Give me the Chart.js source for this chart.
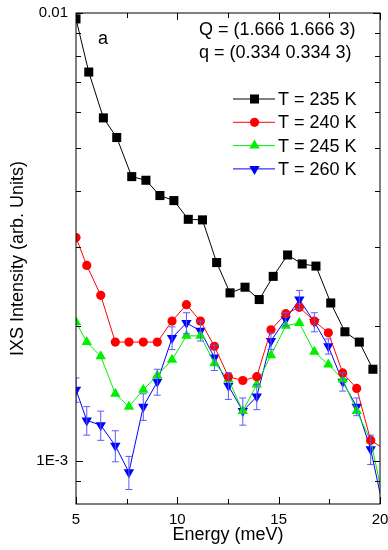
<!DOCTYPE html>
<html>
<head>
<meta charset="utf-8">
<script src="https://cdn.jsdelivr.net/npm/chart.js@4/dist/chart.umd.min.js"></script>
<style>
  body { margin: 0; background: #fff; }
  canvas { display: block; }
</style>
</head>
<body>
<canvas id="ixs" width="388" height="550"></canvas>
<script>
/* dados */
var energia235 = [5.00, 5.63, 6.35, 7.01, 7.75, 8.45, 9.14, 9.83, 10.54, 11.24, 11.94, 12.60, 13.34, 14.04, 14.73, 15.44, 16.16, 16.84, 17.57, 18.27, 18.98, 19.65];
var intens235 = [0.00970, 0.00738, 0.00583, 0.00527, 0.00431, 0.00423, 0.00391, 0.00381, 0.00346, 0.00345, 0.00277, 0.00237, 0.00244, 0.00229, 0.00258, 0.00288, 0.00275, 0.00272, 0.00225, 0.00194, 0.00184, 0.00160];

var energia = [5.00, 5.53, 6.22, 6.94, 7.61, 8.32, 9.01, 9.74, 10.45, 11.14, 11.83, 12.52, 13.23, 13.92, 14.62, 15.35, 16.02, 16.76, 17.45, 18.16, 18.85, 19.54, 20.23];
var intens240 = [0.00315, 0.00273, 0.00234, 0.00184, 0.00184, 0.00184, 0.00184, 0.00205, 0.00223, 0.00205, 0.00180, 0.00154, 0.00151, 0.00154, 0.00196, 0.00213, 0.00220, 0.00205, 0.00193, 0.00157, 0.00145, 0.00111, 0.00106];
var intens245 = [0.00204, 0.00184, 0.00171, 0.00141, 0.00132, 0.00144, 0.00155, 0.00168, 0.00190, 0.00190, 0.00165, 0.00152, 0.00129, 0.00148, 0.00172, 0.00200, 0.00203, 0.00175, 0.00164, 0.00152, 0.00129, 0.00111, 0.00079];
var intens260 = [0.00144, 0.00123, 0.00120, 0.00108, 0.000942, 0.00132, 0.00150, 0.00188, 0.00203, 0.00195, 0.00170, 0.00147, 0.00129, 0.00139, 0.00185, 0.00207, 0.00229, 0.00204, 0.00180, 0.00150, 0.00132, 0.00106, 0.000757];
var erro260 = [0.00009, 0.00009, 0.00009, 0.000086, 0.00008, 0.00009, 0.00010, 0.00011, 0.00011, 0.00010, 0.00011, 0.00010, 0.00009, 0.00009, 0.00008, 0.00007, 0.00011, 0.00010, 0.00007, 0.00007, 0.00006, 0.00008, 0];

var legendas = ['T = 235 K', 'T = 240 K', 'T = 245 K', 'T = 260 K'];
var ticksX = [5, 10, 15, 20];
var ticksXmenor = [7.5, 12.5, 17.5];
var ticksY = [0.001, 0.01];
var ticksYmenor = [0.0009, 0.002, 0.003, 0.004, 0.005, 0.006, 0.007, 0.008, 0.009];

function pontos(xs, ys) {
  var out = [];
  for (var i = 0; i < ys.length; i++) out.push({ x: xs[i], y: ys[i] });
  return out;
}

var fonte = 'Liberation Sans, Arial, sans-serif';

/* barras de erro da serie 260 K */
var barrasErro = {
  id: 'barrasErro',
  afterDatasetsDraw: function (chart) {
    var ctx = chart.ctx, xs = chart.scales.x, ys = chart.scales.y, a = chart.chartArea;
    ctx.save();
    ctx.beginPath();
    ctx.rect(a.left, a.top, a.right - a.left, a.bottom - a.top);
    ctx.clip();
    ctx.strokeStyle = '#5a5aff';
    ctx.lineWidth = 1;
    for (var i = 0; i < intens260.length; i++) {
      if (!erro260[i]) continue;
      var x = xs.getPixelForValue(energia[i]);
      var y1 = ys.getPixelForValue(intens260[i] + erro260[i]);
      var y2 = ys.getPixelForValue(intens260[i] - erro260[i]);
      ctx.beginPath();
      ctx.moveTo(x, y1); ctx.lineTo(x, y2);
      ctx.moveTo(x - 3.5, y1); ctx.lineTo(x + 3.5, y1);
      ctx.moveTo(x - 3.5, y2); ctx.lineTo(x + 3.5, y2);
      ctx.stroke();
    }
    ctx.restore();
  }
};

/* moldura, ticks para dentro, textos e legenda */
var moldura = {
  id: 'moldura',
  afterDraw: function (chart) {
    var ctx = chart.ctx, xs = chart.scales.x, ys = chart.scales.y, a = chart.chartArea;
    ctx.save();
    ctx.strokeStyle = '#000';
    ctx.lineWidth = 1;
    ctx.strokeRect(a.left, a.top, a.right - a.left, a.bottom - a.top);

    function tickX(v, len) {
      var x = Math.round(xs.getPixelForValue(v)) + 0.5;
      ctx.beginPath();
      ctx.moveTo(x, a.bottom); ctx.lineTo(x, a.bottom - len);
      ctx.moveTo(x, a.top); ctx.lineTo(x, a.top + len);
      ctx.stroke();
    }
    function tickY(v, len) {
      var y = Math.round(ys.getPixelForValue(v)) + 0.5;
      ctx.beginPath();
      ctx.moveTo(a.left, y); ctx.lineTo(a.left + len, y);
      ctx.moveTo(a.right, y); ctx.lineTo(a.right - len, y);
      ctx.stroke();
    }
    ticksX.forEach(function (v) { tickX(v, 7); });
    ticksXmenor.forEach(function (v) { tickX(v, 5); });
    ticksY.forEach(function (v) { tickY(v, 7); });
    ticksYmenor.forEach(function (v) { tickY(v, 5); });

    ctx.fillStyle = '#000';
    ctx.textBaseline = 'middle';
    ctx.textAlign = 'left';
    ctx.font = '18px ' + fonte;
    ctx.fillText('a', 98, 39);
    ctx.fillText('Q = (1.666 1.666 3)', 199, 30);
    ctx.fillText('q = (0.334 0.334 3)', 199, 53);

    var ds = chart.data.datasets;
    for (var i = 0; i < ds.length; i++) {
      var y = 99 + i * 23.3;
      ctx.strokeStyle = ds[i].borderColor;
      ctx.beginPath();
      ctx.moveTo(233, y); ctx.lineTo(275, y);
      ctx.stroke();
      ctx.fillStyle = ds[i].backgroundColor;
      Chart.helpers.drawPoint(ctx, {
        pointStyle: ds[i].pointStyle,
        rotation: ds[i].pointRotation || 0,
        radius: ds[i].pointRadius,
        borderWidth: 0
      }, 254.5, y);
      ctx.fillStyle = '#000';
      ctx.fillText(legendas[i], 278, y + 1);
    }
    ctx.restore();
  }
};

var ctx = document.getElementById('ixs').getContext('2d');
var chart = new Chart(ctx, {
  type: 'line',
  data: {
    datasets: [{
      label: legendas[0],
      data: pontos(energia235, intens235),
      borderColor: '#000000',
      backgroundColor: '#000000',
      pointStyle: 'rect',
      pointRadius: 6.4
    }, {
      label: legendas[1],
      data: pontos(energia, intens240),
      borderColor: '#ff0000',
      backgroundColor: '#ff0000',
      pointStyle: 'circle',
      pointRadius: 4.6
    }, {
      label: legendas[2],
      data: pontos(energia, intens245),
      borderColor: '#00f000',
      backgroundColor: '#00f000',
      pointStyle: 'triangle',
      pointRadius: 6
    }, {
      label: legendas[3],
      data: pontos(energia, intens260),
      borderColor: '#0000ff',
      backgroundColor: '#0000ff',
      pointStyle: 'triangle',
      pointRotation: 180,
      pointRadius: 6
    }]
  },
  options: {
    responsive: false,
    animation: false,
    layout: { padding: { top: 13, right: 8, left: 0, bottom: 0 } },
    elements: {
      line: { borderWidth: 1, tension: 0 },
      point: { borderWidth: 0, hoverRadius: 6 }
    },
    plugins: {
      legend: { display: false },
      tooltip: { enabled: false }
    },
    scales: {
      x: {
        type: 'linear',
        min: 5,
        max: 20,
        grid: { display: false, drawTicks: false },
        border: { display: false },
        afterBuildTicks: function (s) { s.ticks = ticksX.map(function (v) { return { value: v }; }); },
        ticks: { color: '#000', font: { family: fonte, size: 15 }, padding: 7, maxRotation: 0 },
        title: { display: true, text: 'Energy (meV)', color: '#000', font: { family: fonte, size: 18 }, padding: { top: 0, bottom: 4 } },
        afterFit: function (s) { s.height = 46; s.paddingLeft = 0; s.paddingRight = 0; }
      },
      y: {
        type: 'logarithmic',
        min: 0.0008,
        max: 0.01,
        grid: { display: false, drawTicks: false },
        border: { display: false },
        afterBuildTicks: function (s) { s.ticks = ticksY.map(function (v) { return { value: v }; }); },
        ticks: {
          color: '#000',
          font: { family: fonte, size: 15 },
          padding: 8,
          callback: function (v) { return v >= 0.005 ? '0.01' : '1E-3'; }
        },
        title: { display: true, text: 'IXS Intensity (arb. Units)', color: '#000', font: { family: fonte, size: 18 }, padding: { top: 7, bottom: 0 } },
        afterFit: function (s) { s.width = 76; s.paddingTop = 0; s.paddingBottom = 0; }
      }
    }
  },
  plugins: [barrasErro, moldura]
});
</script>
</body>
</html>
